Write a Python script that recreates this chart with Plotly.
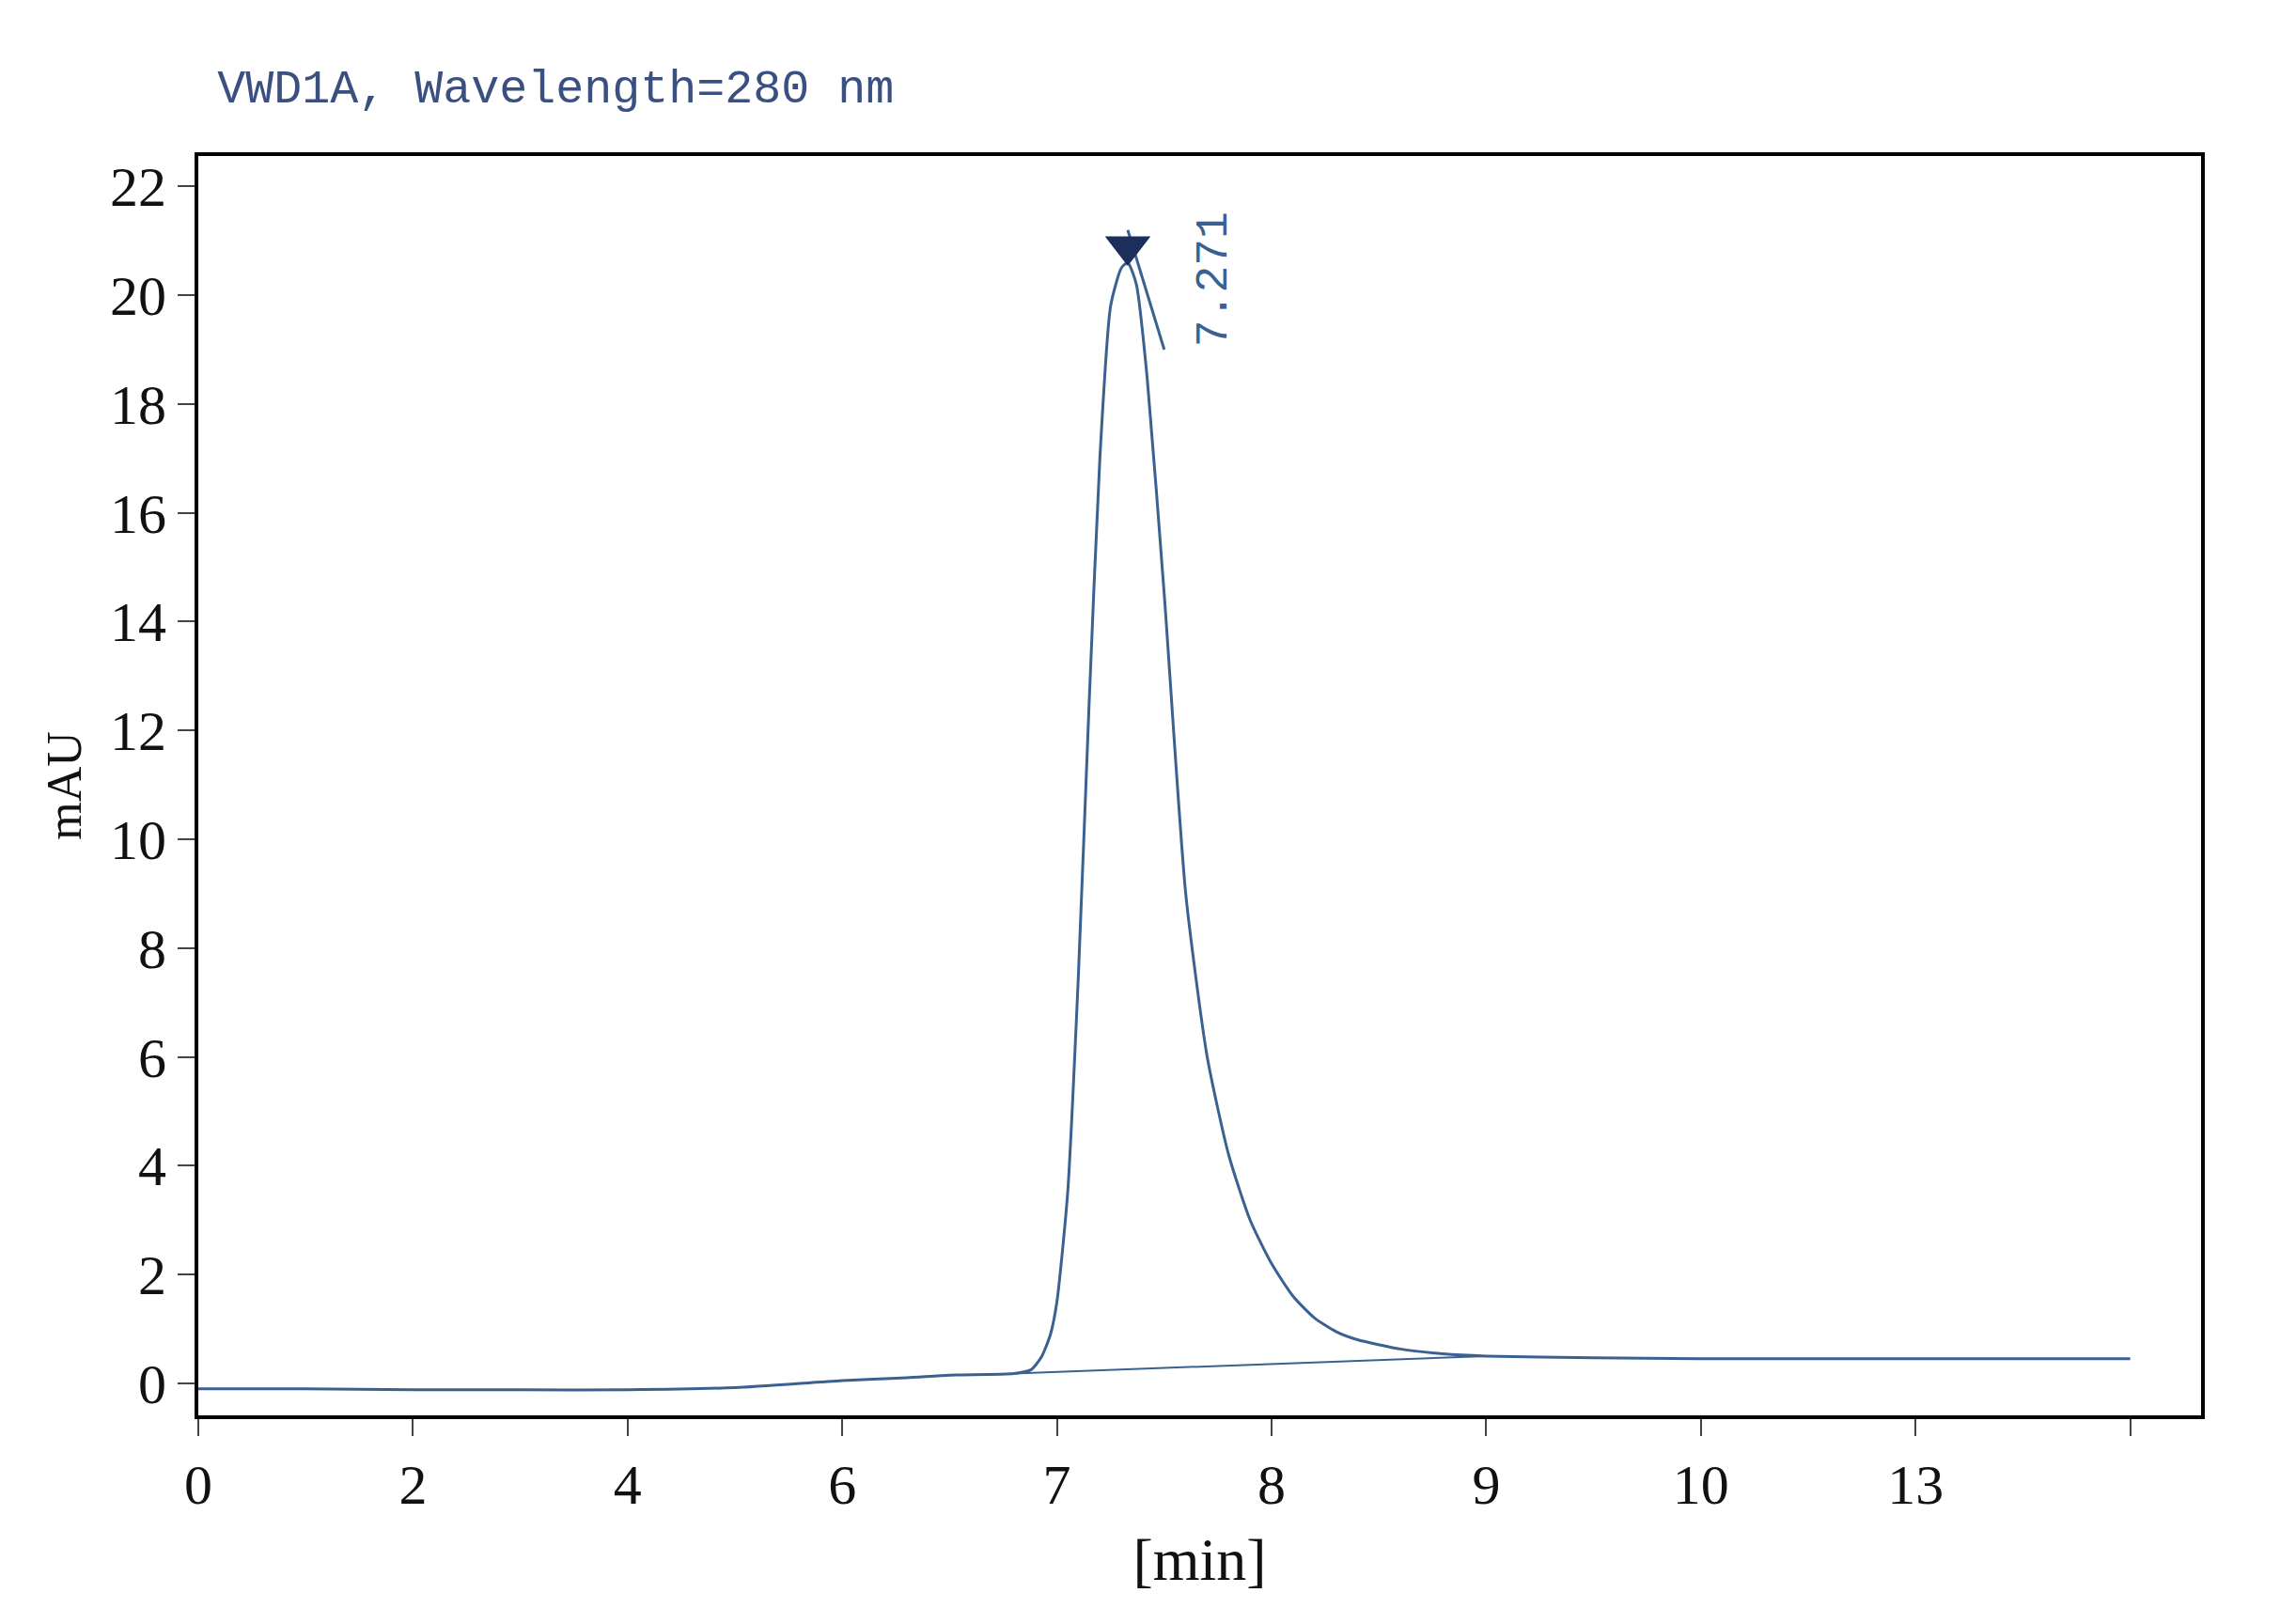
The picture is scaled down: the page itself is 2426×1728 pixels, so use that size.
import plotly.graph_objects as go

# x positions are tick-slot positions (axis is drawn with evenly spaced labels)
tick_pos = [0, 1, 2, 3, 4, 5, 6, 7, 8, 9]
tick_text = ["0", "2", "4", "6", "7", "8", "9", "10", "13", ""]

sig_x = [0, 0.5, 1, 1.5, 2, 2.5, 3, 3.3, 3.5, 3.8, 3.88, 3.93, 3.97, 4.0, 4.05, 4.1, 4.15,
         4.2, 4.25, 4.3, 4.33, 4.37, 4.42, 4.5, 4.6, 4.7, 4.8, 4.9, 5.0, 5.1, 5.2, 5.3, 5.4,
         5.6, 5.8, 6.0, 6.5, 7, 7.5, 8, 8.5, 9]
sig_y = [-0.1, -0.1, -0.12, -0.12, -0.12, -0.08, 0.05, 0.1, 0.15, 0.18, 0.25, 0.5, 0.9, 1.5,
         3.5, 7.5, 12.5, 17.0, 19.8, 20.5, 20.6, 20.2, 18.5, 14.5, 9.0, 6.0, 4.2, 3.0, 2.2,
         1.6, 1.2, 0.95, 0.8, 0.63, 0.54, 0.5, 0.47, 0.45, 0.45, 0.45, 0.45, 0.45]

base_x = [3.8, 6.0]
base_y = [0.18, 0.5]

peak_x = 4.33
peak_y = 20.9
peak_label = "7.271"

blue = "#3b6190"
fig = go.Figure()
fig.add_trace(go.Scatter(x=sig_x, y=sig_y, mode="lines", line=dict(color=blue, width=3),
                         line_shape="spline", line_smoothing=0.6))
fig.add_trace(go.Scatter(x=base_x, y=base_y, mode="lines", line=dict(color=blue, width=2)))
fig.add_trace(go.Scatter(x=[peak_x, 4.5], y=[21.2, 19.0], mode="lines",
                         line=dict(color=blue, width=3)))
fig.add_trace(go.Scatter(x=[peak_x], y=[peak_y], mode="markers",
                         marker=dict(symbol="triangle-down", size=42, color="#1c2f5a")))
fig.add_annotation(x=4.73, y=20.3, text=peak_label, textangle=-90, showarrow=False,
                   font=dict(family="Liberation Mono", size=48, color=blue))

axis_font = dict(family="Liberation Serif", size=60, color="#111")
fig.update_layout(
    width=2426, height=1728, showlegend=False,
    paper_bgcolor="white", plot_bgcolor="white",
    margin=dict(l=203, r=92, t=158, b=230),
    title=dict(text="VWD1A, Wavelength=280 nm", x=0.092, xanchor="left", y=0.962,
               font=dict(family="Liberation Mono", size=50, color="#3a5080")),
    xaxis=dict(range=[0, 9.33], tickvals=tick_pos, ticktext=tick_text, ticks="outside",
               ticklen=18, tickwidth=2, showgrid=False, zeroline=False, showline=True,
               linecolor="black", linewidth=4, mirror=True, tickfont=axis_font,
               title=dict(text="[min]", standoff=25,
                          font=dict(family="Liberation Serif", size=64, color="#111"))),
    yaxis=dict(range=[-0.59, 22.56], tickvals=list(range(0, 23, 2)), ticks="outside",
               ticklen=18, tickwidth=2, showgrid=False, zeroline=False, showline=True,
               linecolor="black", linewidth=4, mirror=True, tickfont=axis_font,
               title=dict(text="mAU", font=dict(family="Liberation Serif", size=52, color="#111"))),
)
fig.write_html("out.html")
